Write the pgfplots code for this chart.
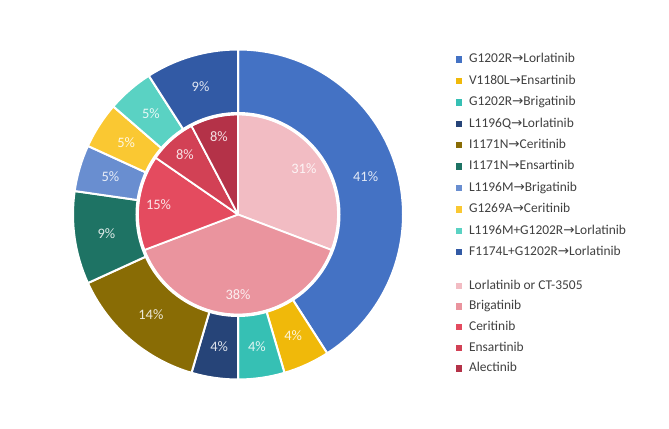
\documentclass[border=0pt]{standalone}
\usepackage{pgfplots}
\pgfplotsset{compat=1.18}
\usepackage{pgfplotstable}
\usepackage{fontspec}
\setmainfont{Carlito}
\newfontfamily\arrowfont{DejaVu Sans}
\newcommand{\ar}{{\arrowfont\symbol{"2192}}}

% outer ring colours
\definecolor{oA}{RGB}{68,114,196}
\definecolor{oB}{RGB}{240,185,10}
\definecolor{oC}{RGB}{54,192,180}
\definecolor{oD}{RGB}{38,68,120}
\definecolor{oE}{RGB}{137,108,5}
\definecolor{oF}{RGB}{30,115,100}
\definecolor{oG}{RGB}{105,142,208}
\definecolor{oH}{RGB}{250,200,50}
\definecolor{oI}{RGB}{90,210,195}
\definecolor{oJ}{RGB}{50,90,165}
% inner pie colours
\definecolor{iA}{RGB}{242,188,195}
\definecolor{iB}{RGB}{234,148,158}
\definecolor{iC}{RGB}{228,75,95}
\definecolor{iD}{RGB}{210,65,85}
\definecolor{iE}{RGB}{180,50,72}

\pgfplotstableread[col sep=comma]{
n,pct,col
9,41,oA
1,4,oB
1,4,oC
1,4,oD
3,14,oE
2,9,oF
1,5,oG
1,5,oH
1,5,oI
2,9,oJ
}\outerdata

\pgfplotstableread[col sep=comma]{
n,pct,col
4,31,iA
5,38,iB
2,15,iC
1,8,iD
1,8,iE
}\innerdata

\tikzset{lbl/.style={font=\fontsize{14.5}{17}\selectfont, text=white, text opacity=0.85}}

\def\cx{238}
\def\cy{214.5}

% #1 table, #2 radius, #3 label radius, #4 separator width
\newcommand{\ring}[4]{%
  \pgfplotstablegetrowsof{#1}\pgfmathtruncatemacro\nlast{\pgfplotsretval-1}%
  \def\tot{0}%
  \pgfplotsforeachungrouped \i in {0,...,\nlast}{%
    \pgfplotstablegetelem{\i}{n}\of{#1}%
    \pgfmathsetmacro\tot{\tot+\pgfplotsretval}%
  }%
  \def\cum{0}%
  \pgfplotsforeachungrouped \i in {0,...,\nlast}{%
    \pgfplotstablegetelem{\i}{n}\of{#1}\let\v\pgfplotsretval
    \pgfplotstablegetelem{\i}{pct}\of{#1}\let\p\pgfplotsretval
    \pgfplotstablegetelem{\i}{col}\of{#1}\let\c\pgfplotsretval
    \pgfmathsetmacro\sa{90-360*\cum/\tot}%
    \pgfmathsetmacro\ea{90-360*(\cum+\v)/\tot}%
    \pgfmathsetmacro\ma{(\sa+\ea)/2}%
    \pgfmathsetmacro\cum{\cum+\v}%
    \edef\temp{%
      \noexpand\fill[\c, draw=white, line width=#4, line join=round]
        (axis cs:\cx,\cy) -- ([shift={(\sa:#2)}]axis cs:\cx,\cy)
        arc[start angle=\sa, end angle=\ea, radius=#2] -- cycle;
      \noexpand\node[lbl] at ([shift={(\ma:#3)}]axis cs:\cx,\cy) {\p\noexpand\%};
    }%
    \temp
  }%
}

\pgfplotsset{
  legstyle/.style={
    legend style={draw=none, fill=none, inner sep=0pt, outer sep=0pt,
      font=\fontsize{13.5}{16}\selectfont, text=black!75,
      row sep=6.9bp, cells={anchor=west},
      nodes={inner sep=1bp, text height=9.5bp, text depth=3bp}},
    legend cell align=left,
    legend image code/.code={%
      \path[draw=none, fill=none] (0bp,0bp) -- (12.5bp,0bp);
      \fill[##1, draw=none] (0bp,-3.2bp) rectangle (6.4bp,3.2bp);},
  },
  base/.style={at={(0,0)}, anchor=south west, x=1bp, y=1bp,
    xmin=0, xmax=669, ymin=0, ymax=429, hide axis, clip=false, legstyle},
}

\begin{document}
\begin{tikzpicture}
\useasboundingbox (0,0) rectangle (669bp,429bp);
\begin{axis}[base, legend style={at={(0.681,0.878)}, anchor=north west}]
  \ring{\outerdata}{165bp}{133bp}{2bp}
  \ring{\innerdata}{100bp}{80bp}{1.8bp}
  \draw[white, line width=3bp] (axis cs:\cx,\cy) circle[radius=101bp];
  \addlegendimage{fill=oA}\addlegendentry{G1202R\ar Lorlatinib}
  \addlegendimage{fill=oB}\addlegendentry{V1180L\ar Ensartinib}
  \addlegendimage{fill=oC}\addlegendentry{G1202R\ar Brigatinib}
  \addlegendimage{fill=oD}\addlegendentry{L1196Q\ar Lorlatinib}
  \addlegendimage{fill=oE}\addlegendentry{I1171N\ar Ceritinib}
  \addlegendimage{fill=oF}\addlegendentry{I1171N\ar Ensartinib}
  \addlegendimage{fill=oG}\addlegendentry{L1196M\ar Brigatinib}
  \addlegendimage{fill=oH}\addlegendentry{G1269A\ar Ceritinib}
  \addlegendimage{fill=oI}\addlegendentry{L1196M+G1202R\ar Lorlatinib}
  \addlegendimage{fill=oJ}\addlegendentry{F1174L+G1202R\ar Lorlatinib}
\end{axis}
\begin{axis}[base, legend style={at={(0.681,0.350)}, anchor=north west, row sep=6.1bp}]
  \addlegendimage{fill=iA}\addlegendentry{Lorlatinib or CT-3505}
  \addlegendimage{fill=iB}\addlegendentry{Brigatinib}
  \addlegendimage{fill=iC}\addlegendentry{Ceritinib}
  \addlegendimage{fill=iD}\addlegendentry{Ensartinib}
  \addlegendimage{fill=iE}\addlegendentry{Alectinib}
\end{axis}
\end{tikzpicture}
\end{document}
